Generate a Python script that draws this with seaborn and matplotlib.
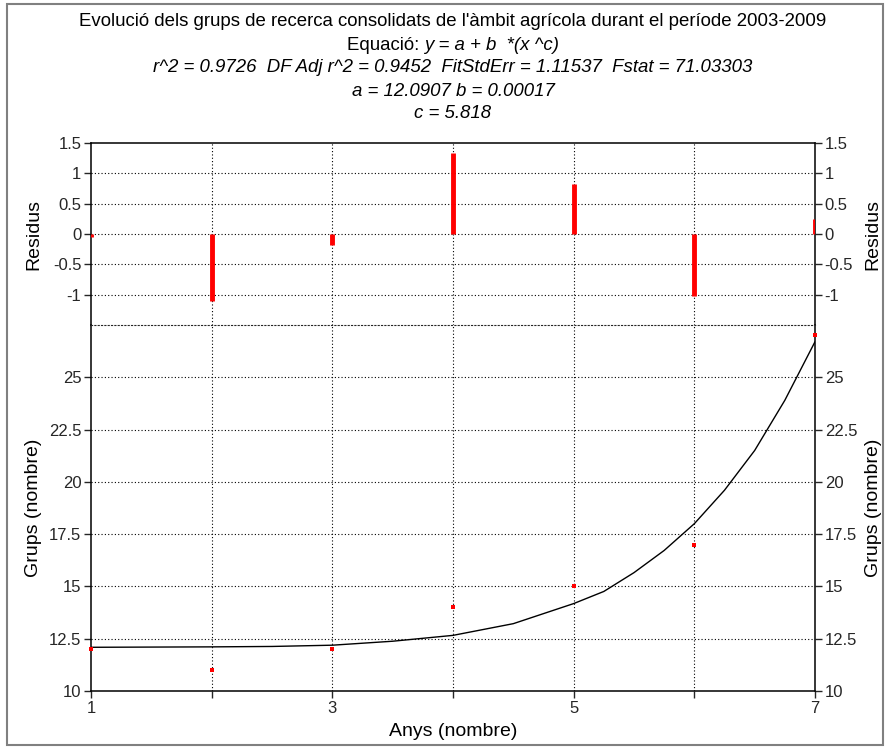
import matplotlib
matplotlib.use("Agg")
import matplotlib.pyplot as plt
import seaborn as sns
import pandas as pd
from matplotlib.patches import Rectangle

# ---- data ----
years = [1, 2, 3, 4, 5, 6, 7]
groups = [12, 11, 12, 14, 15, 17, 27]
residuals = [-0.05, -1.10, -0.18, 1.33, 0.82, -1.02, 0.25]
fit_x = [1, 1.5, 2, 2.5, 3, 3.5, 4, 4.5, 5, 5.25, 5.5, 5.75, 6, 6.25, 6.5, 6.75, 7]
fit_y = [12.09, 12.10, 12.11, 12.13, 12.19, 12.38, 12.66, 13.22, 14.18, 14.76,
         15.66, 16.72, 18.00, 19.60, 21.50, 23.90, 26.70]
x_ticks = [1, 2, 3, 4, 5, 6, 7]
x_tick_labels = ["1", "", "3", "", "5", "", "7"]
res_ticks = [-1, -0.5, 0, 0.5, 1, 1.5]
res_tick_labels = ["-1", "-0.5", "0", "0.5", "1", "1.5"]
grp_ticks = [10, 12.5, 15, 17.5, 20, 22.5, 25]
grp_tick_labels = ["10", "12.5", "15", "17.5", "20", "22.5", "25"]

title_lines = [
    "Evolució dels grups de recerca consolidats de l'àmbit agrícola durant el període 2003-2009",
    None,
    "r^2 = 0.9726  DF Adj r^2 = 0.9452  FitStdErr = 1.11537  Fstat = 71.03303",
    "a = 12.0907 b = 0.00017",
    "c = 5.818",
]

sns.set_style("ticks")
plt.rcParams["font.family"] = ["Liberation Sans", "DejaVu Sans"]
plt.rcParams["text.color"] = "black"

W, H = 888, 749
fig = plt.figure(figsize=(W / 100, H / 100), dpi=100)
fig.patch.set_facecolor("white")

def fx(px):
    return px / W

def fy(py):
    return 1 - py / H

L, R = 91, 815
ax_r = fig.add_axes([fx(L), fy(325), fx(R - L), (325 - 143) / H])
ax_g = fig.add_axes([fx(L), fy(691), fx(R - L), (691 - 325) / H])

dot = (0, (1, 2))
grid_kw = dict(color="black", linestyle=dot, linewidth=0.8)

df = pd.DataFrame({"x": years, "y": groups, "res": residuals})
fit_df = pd.DataFrame({"x": fit_x, "y": fit_y})

# ---- residual panel ----
ax_r.set_xlim(1, 7)
ax_r.set_ylim(-1.5, 1.5)
for xv in x_ticks[1:-1]:
    ax_r.axvline(xv, zorder=0, **grid_kw)
for yv in [-1, -0.5, 0, 0.5, 1]:
    ax_r.axhline(yv, zorder=0, **grid_kw)
ax_r.vlines(df["x"], 0, df["res"], color="#ff0000", linewidth=3.5, zorder=3)
ax_r.set_xticks([])
ax_r.set_yticks(res_ticks)
ax_r.set_yticklabels(res_tick_labels)
ax_r.tick_params(axis="y", direction="out", length=5, width=1, labelsize=12,
                 left=True, right=True, labelleft=True, labelright=True, pad=2)
ax_r.spines["bottom"].set_visible(False)
for s in ["left", "right", "top"]:
    ax_r.spines[s].set_color("black")
    ax_r.spines[s].set_linewidth(1.1)
ax_r.set_ylabel("")
ax_r.set_xlabel("")
ax_r.set_facecolor("white")

# ---- main panel ----
ax_g.set_xlim(1, 7)
ax_g.set_ylim(10, 27.5)
for xv in x_ticks[1:-1]:
    ax_g.axvline(xv, zorder=0, **grid_kw)
for yv in grp_ticks[1:]:
    ax_g.axhline(yv, zorder=0, **grid_kw)
sns.lineplot(data=fit_df, x="x", y="y", ax=ax_g, color="black", linewidth=1.0,
             zorder=2, legend=False)
sns.scatterplot(data=df, x="x", y="y", ax=ax_g, color="#ff0000", marker="s",
                s=5, linewidth=0, zorder=4, legend=False, clip_on=False)
ax_g.set_xticks(x_ticks)
ax_g.set_xticklabels(x_tick_labels)
ax_g.set_yticks(grp_ticks)
ax_g.set_yticklabels(grp_tick_labels)
ax_g.tick_params(axis="y", direction="out", length=5, width=1, labelsize=12,
                 left=True, right=True, labelleft=True, labelright=True, pad=2)
ax_g.tick_params(axis="x", direction="out", length=5, width=1, labelsize=12, pad=2)
ax_g.spines["top"].set_linestyle(dot)
ax_g.spines["top"].set_linewidth(0.8)
for s in ["left", "right", "bottom"]:
    ax_g.spines[s].set_color("black")
    ax_g.spines[s].set_linewidth(1.1)
ax_g.set_ylabel("")
ax_g.set_xlabel("")
ax_g.set_facecolor("white")

# ---- axis labels ----
lab = dict(fontsize=14, rotation=90, ha="center", va="center")
fig.text(fx(34), fy(234), "Residus", **lab)
fig.text(fx(873), fy(234), "Residus", **lab)
fig.text(fx(33), fy(508), "Grups (nombre)", **lab)
fig.text(fx(873), fy(508), "Grups (nombre)", **lab)
fig.text(fx(453), fy(731), "Anys (nombre)", fontsize=14, ha="center", va="center")

# ---- title block ----
ys = [22, 45, 68, 91, 114]
fs_t = 13.4
fig.text(fx(453), fy(ys[0]), title_lines[0], fontsize=fs_t, ha="center", va="center")
for i in (2, 3, 4):
    fig.text(fx(453), fy(ys[i]), title_lines[i], fontsize=fs_t, ha="center",
             va="center", style="italic")
t_a = fig.text(0, fy(ys[1]), "Equació: ", fontsize=fs_t, ha="left", va="center")
t_b = fig.text(0, fy(ys[1]), "y = a + b  *(x ^c)", fontsize=fs_t, ha="left",
               va="center", style="italic")
fig.canvas.draw()
rend = fig.canvas.get_renderer()
wa = t_a.get_window_extent(rend).width
wb = t_b.get_window_extent(rend).width
x0 = 453 - (wa + wb) / 2
t_a.set_x(fx(x0))
t_b.set_x(fx(x0 + wa))

# ---- outer frame ----
fig.patches.append(Rectangle((fx(7), fy(745)), fx(883 - 7), (745 - 4) / H,
                             transform=fig.transFigure, fill=False,
                             edgecolor="#808080", linewidth=1.5))

fig.savefig("out.png", dpi=100, facecolor="white")
